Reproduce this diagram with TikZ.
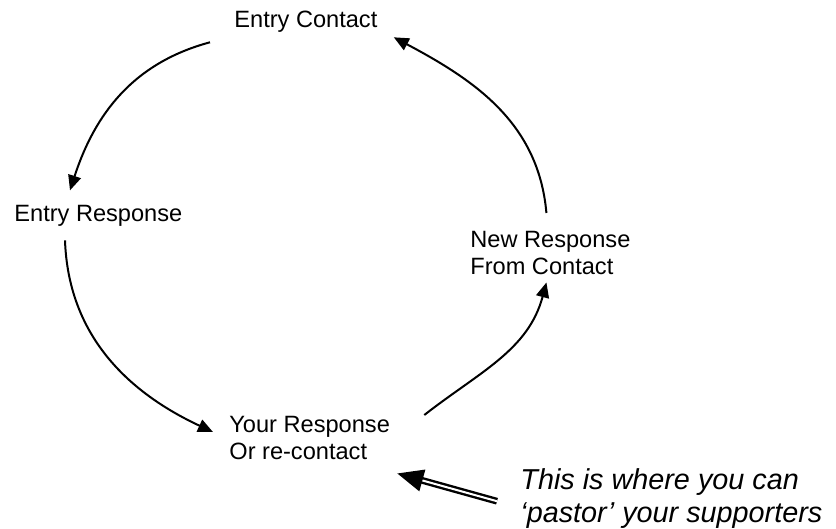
\documentclass[tikz,border=0pt]{standalone}
\usepackage{fontspec}
\setmainfont{Liberation Sans}
\usetikzlibrary{arrows.meta,positioning}

\begin{document}
\begin{tikzpicture}[x=0.5pt,y=0.5pt,
    stage/.style={inner sep=0pt,align=left,font=\fontsize{11.8}{13.6}\selectfont},
    remark/.style={inner sep=0pt,align=left,font=\fontsize{14.4}{16.4}\selectfont\itshape},
    cyc/.style={line width=1pt,-{Triangle[length=7.5pt,width=6.5pt]}},
    pointer/.style={double,line width=1.2pt,double distance=1pt,-{Triangle[length=13pt,width=11pt]}}]
    \useasboundingbox (0,0) rectangle (836,-529);
    \node[stage,anchor=base west] (ec) at (234,-28) {Entry Contact};
    \node[stage,anchor=base west] (er) at (14,-222) {Entry Response};
    \node[stage,anchor=north west] (nr) at (470,-231) {New Response\\From Contact};
    \node[stage,anchor=north west] (yr) at (229,-416) {Your Response\\Or re-contact};
    \node[remark,anchor=north west] (note) at (520,-468) {This is where you can\\`pastor' your supporters};
    \path[cyc]
    ([shift={(-24,-9)}]ec.south west) edge[out=195,in=72] ([shift={(56,15)}]er.north west)
    ([shift={(51,-13)}]er.south west) edge[out=-88,in=155] ([shift={(-16,-16)}]yr.north west)
    ([shift={(34,1)}]yr.north east) edge[out=38,in=-105] ([shift={(-4,-7)}]nr.south)
    ([shift={(-4,18)}]nr.north) edge[out=95,in=-28] ([shift={(16,-4)}]ec.south east)
    ; %end path
    \draw[pointer] ([shift={(-23,-3)}]note.west) -- ([shift={(7,-13)}]yr.south east);
\end{tikzpicture}
\end{document}
